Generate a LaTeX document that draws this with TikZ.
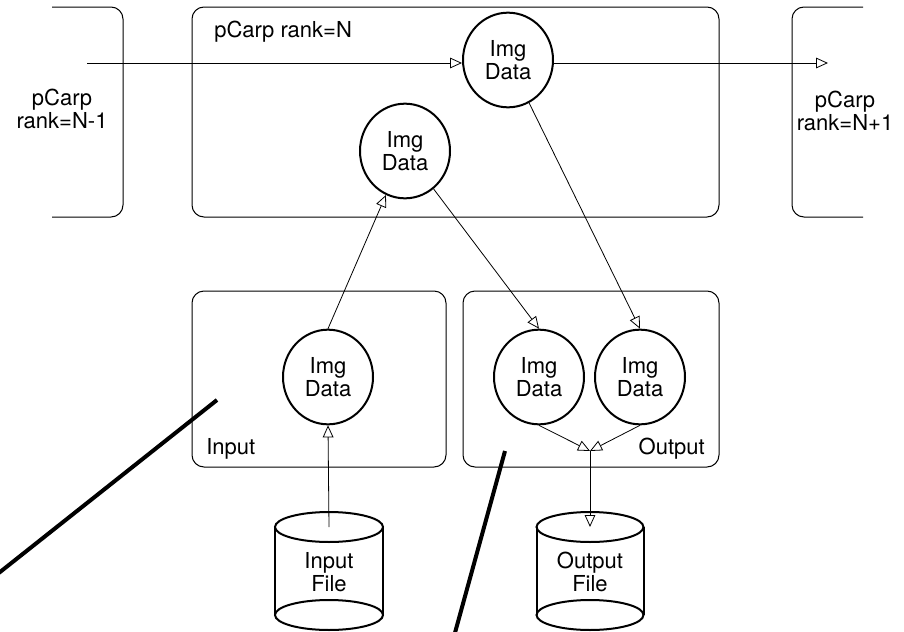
\documentclass[tikz,border=0pt]{standalone}
\usepackage{fontspec}
\setmainfont{TeX Gyre Heros}
\usetikzlibrary{arrows.meta,shapes.geometric}
\begin{document}
\begin{tikzpicture}[x=0.75pt,y=-0.75pt,
  box/.style={draw,line width=0.75pt,rounded corners=9pt},
  data/.style={draw,ellipse,line width=1.5pt,minimum width=67.5pt,minimum height=71pt,
    inner sep=0pt,align=center,font=\fontsize{16.5}{17.25}\selectfont},
  lbl/.style={font=\fontsize{16.5}{17.5}\selectfont,align=center,inner sep=0pt},
  flow/.style={line width=0.6pt,-{Triangle[open,length=9pt,width=8pt]}},
  slash/.style={line width=3pt},
  drum/.style={line width=1.5pt}
]
\useasboundingbox (0,0) rectangle (904,632);

% process boxes: neighbours on either side are cut off at the page edge
\draw[box] (52,7) -- (123,7) -- (123,217) -- (52,217);
\draw[box] (192,7) rectangle (719,217);
\draw[box] (863,7) -- (792,7) -- (792,217) -- (863,217);
\draw[box] (192,291) rectangle (446,467);
\draw[box] (463,291) rectangle (719,467);

% box labels
\node[lbl,anchor=base west] (rankN) at (214,37) {pCarp rank=N};
\node[lbl] (prev) at (62,109) {pCarp\\rank=N-1};
\node[lbl] (next) at (845,111) {pCarp\\rank=N+1};
\node[lbl,anchor=base west] (inlab) at (206,454) {Input};
\node[lbl,anchor=base east] (outlab) at (705,454) {Output};

% image data buffers
\node[data] (T) at (508,60) {Img\\Data};
\node[data] (M) at (405,151) {Img\\Data};
\node[data] (I) at (328,377) {Img\\Data};
\node[data] (O1) at (539,377) {Img\\Data};
\node[data] (O2) at (640,377) {Img\\Data};

% files
\coordinate (IFtop) at (329,527);
\coordinate (IFbot) at (329,615);
\draw[drum] (IFtop) ellipse [x radius=40.5pt, y radius=11.25pt];
\draw[drum] (IFbot) ellipse [x radius=40.5pt, y radius=11.25pt];
\draw[drum] (275,527) -- (275,615) (383,527) -- (383,615);
\node[lbl] (IF) at (329,572) {Input\\File};

\coordinate (OFtop) at (590,527);
\coordinate (OFbot) at (590,615);
\draw[drum] (OFtop) ellipse [x radius=40.1pt, y radius=11.25pt];
\draw[drum] (OFbot) ellipse [x radius=40.1pt, y radius=11.25pt];
\draw[drum] (536.5,527) -- (536.5,615) (643.5,527) -- (643.5,615);
\node[lbl] (OF) at (590,572) {Output\\File};

% data flow
\coordinate (src) at (87,63);
\coordinate (dst) at (828,63);
\coordinate (join) at (590,451);
\draw[flow] (src) -- (src -| T.west);
\draw[flow] (T.east |- dst) -- (dst);
\draw[flow] (I.north) -- (M);
\draw[flow] (M) -- (O1.north);
\draw[flow] (T) -- (O2.north);
\draw[flow] (O1.south) -- (join);
\draw[flow] (O2.south) -- (join);
\draw[flow] (join) -- (OFtop);
\draw[flow] (IFtop) -- (I.south);

% heavy strokes
\draw[slash] (217,400) -- (-5,576);
\draw[slash] (505,451) -- (453,640);
\end{tikzpicture}
\end{document}
